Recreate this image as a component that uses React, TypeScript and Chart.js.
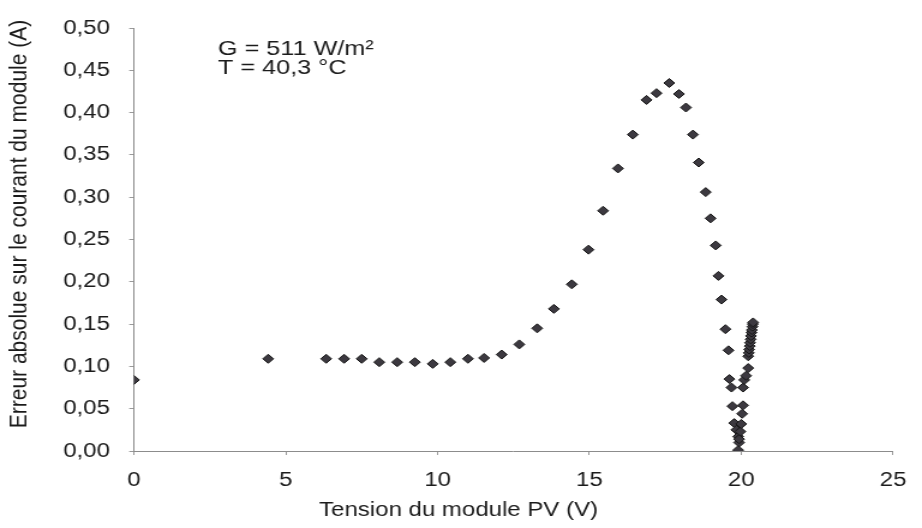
import React, { useEffect, useRef } from "react";
import { Chart, registerables } from "chart.js";

Chart.register(...registerables);

// Module voltage (V) and absolute error on the module current (A)
const voltage = [
  0, 4.42, 6.33, 6.92, 7.5, 8.08, 8.67, 9.25, 9.84, 10.42,
  11.0, 11.53, 12.11, 12.69, 13.28, 13.83, 14.42, 14.97, 15.45, 15.94,
  16.43, 16.88, 17.21, 17.63, 17.95, 18.18, 18.41, 18.6, 18.83, 18.99,
  19.16, 19.25, 19.35, 19.48, 19.58, 19.61, 19.68, 19.71, 19.77, 19.84,
  19.9, 19.93, 19.9, 19.93, 19.97, 20.0, 20.03, 20.06, 20.06, 20.1,
  20.16, 20.23, 20.23, 20.25, 20.26, 20.28, 20.29, 20.31, 20.32, 20.34,
  20.35, 20.37, 20.38, 20.39,
];
const currentError = [
  0.084, 0.109, 0.109, 0.109, 0.109, 0.105, 0.105, 0.105, 0.103, 0.105,
  0.109, 0.11, 0.114, 0.126, 0.145, 0.168, 0.197, 0.238, 0.284, 0.334,
  0.374, 0.415, 0.423, 0.435, 0.422, 0.406, 0.374, 0.341, 0.306, 0.275,
  0.243, 0.207, 0.179, 0.144, 0.119, 0.085, 0.075, 0.053, 0.033, 0.025,
  0.017, 0.01, 0.001, 0.014, 0.023, 0.032, 0.044, 0.054, 0.075, 0.084,
  0.089, 0.098, 0.112, 0.116, 0.12, 0.124, 0.128, 0.132, 0.136, 0.14,
  0.143, 0.147, 0.15, 0.152,
];

const xTicks = [0, 5, 10, 15, 20, 25];
const yTicks = [0, 0.05, 0.1, 0.15, 0.2, 0.25, 0.3, 0.35, 0.4, 0.45, 0.5];

const conditions = ["G = 511 W/m\u00b2", "T = 40,3 \u00b0C"];
const xTitle = "Tension du module PV (V)";
const yTitle = "Erreur absolue sur le courant du module (A)";

// The drawing surface is rendered narrower and widened by CSS
const DRAW_W = 768;
const DRAW_H = 528;
const VIEW_W = 922;

const FONT = "'Liberation Sans', Arial, sans-serif";
const INK = "#1b1b1b";

const fmtComma = (v: number, d: number) => v.toFixed(d).replace(".", ",");

const textPlugin = {
  id: "chartTexts",
  afterDraw(chart: any) {
    const ctx = chart.ctx as CanvasRenderingContext2D;
    const area = chart.chartArea;
    ctx.save();
    ctx.fillStyle = INK;

    // measurement conditions
    ctx.font = `21px ${FONT}`;
    ctx.textAlign = "left";
    ctx.textBaseline = "alphabetic";
    conditions.forEach((line, i) => {
      ctx.fillText(line, area.left + 70, 55 + i * 19);
    });

    // x axis title
    ctx.textAlign = "center";
    ctx.textBaseline = "middle";
    ctx.font = `20px ${FONT}`;
    ctx.fillText(xTitle, 382, 510);

    // y axis title
    ctx.translate(15.8, 224);
    ctx.rotate(-Math.PI / 2);
    ctx.font = `21px ${FONT}`;
    ctx.fillText(yTitle, 0, 0);
    ctx.restore();
  },
};

export default function App() {
  const canvasRef = useRef<HTMLCanvasElement | null>(null);

  useEffect(() => {
    const canvas = canvasRef.current;
    if (!canvas) return;
    const points = voltage.map((v, i) => ({ x: v, y: currentError[i] }));
    const chart = new Chart(canvas, {
      type: "scatter",
      data: {
        datasets: [
          {
            data: points,
            pointStyle: "rectRot",
            pointRadius: 4.5,
            pointHoverRadius: 4.5,
            pointBackgroundColor: "#3c3940",
            pointBorderColor: "#161616",
            pointBorderWidth: 1,
            showLine: false,
          },
        ],
      },
      options: {
        responsive: false,
        animation: false,
        devicePixelRatio: 1,
        layout: { padding: { top: 17, right: 14.7, left: 0, bottom: 0 } },
        plugins: {
          legend: { display: false },
          tooltip: { enabled: false },
          title: { display: false },
        },
        scales: {
          x: {
            type: "linear",
            min: 0,
            max: 25,
            afterBuildTicks: (scale: any) => {
              scale.ticks = xTicks.map((v) => ({ value: v }));
            },
            afterFit: (scale: any) => {
              scale.height = 77;
            },
            border: { display: true, color: "#8c8c8c", width: 1 },
            grid: {
              display: true,
              drawOnChartArea: false,
              drawTicks: true,
              tickLength: 4,
              color: "#9a9a9a",
            },
            ticks: {
              padding: 13,
              color: INK,
              font: { family: FONT, size: 20 },
              maxRotation: 0,
              callback: (v: any) => String(v),
            },
          },
          y: {
            type: "linear",
            min: 0,
            max: 0.5,
            afterBuildTicks: (scale: any) => {
              scale.ticks = yTicks.map((v) => ({ value: v }));
            },
            afterFit: (scale: any) => {
              scale.width = 111.6;
            },
            border: { display: true, color: "#8c8c8c", width: 1 },
            grid: {
              display: true,
              drawOnChartArea: false,
              drawTicks: true,
              tickLength: 4,
              color: "#9a9a9a",
            },
            ticks: {
              padding: 16,
              color: INK,
              font: { family: FONT, size: 20 },
              callback: (v: any) => fmtComma(Number(v), 2),
            },
          },
        },
      },
      plugins: [textPlugin],
    });
    return () => chart.destroy();
  }, []);

  return (
    <div
      style={{
        position: "absolute",
        left: 0,
        top: 0,
        width: VIEW_W,
        height: DRAW_H,
        background: "#ffffff",
      }}
    >
      <canvas
        ref={canvasRef}
        width={DRAW_W}
        height={DRAW_H}
        style={{ width: `${VIEW_W}px`, height: `${DRAW_H}px`, display: "block" }}
      />
    </div>
  );
}
